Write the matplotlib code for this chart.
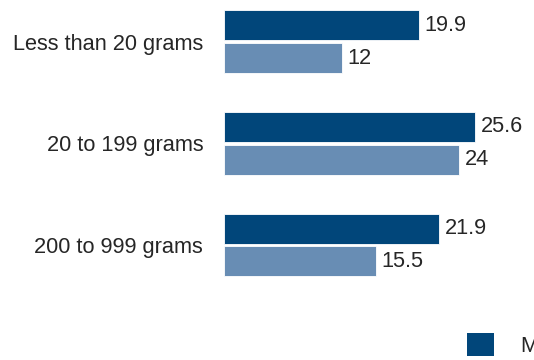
import numpy as np
import matplotlib
matplotlib.use('Agg')
from matplotlib import pyplot as plt
from matplotlib.patches import Patch

categories = ['Less than 20 grams', '20 to 199 grams', '200 to 999 grams']
series_names = ['Male', 'Female']
dark_values = [19.9, 25.6, 21.9]
light_values = [12, 24, 15.5]

DARK = '#01467A'
LIGHT = '#688DB4'
TEXT = '#262626'
FS = 15.7

plt.rcParams['font.family'] = ['Liberation Sans', 'DejaVu Sans']

fig = plt.figure(figsize=(5.34, 3.60), dpi=100)
ax = fig.add_axes([224 / 534, 0, 310 / 534, 1])

y = np.arange(len(categories))
h = 0.295
off = 0.162

b1 = ax.barh(y - off, dark_values, height=h, color=DARK, edgecolor='white', linewidth=0.6)
b2 = ax.barh(y + off, light_values, height=h, color=LIGHT, edgecolor='white', linewidth=0.6)

ax.bar_label(b1, labels=[f'{v:g}' for v in dark_values], padding=4, fontsize=FS, color=TEXT)
ax.bar_label(b2, labels=[f'{v:g}' for v in light_values], padding=4, fontsize=FS, color=TEXT)

ax.set_xlim(0, 31.6)
ax.set_ylim(3.132, -0.411)
ax.set_yticks(y)
ax.set_yticklabels(categories, fontsize=FS, color=TEXT)
ax.tick_params(axis='y', length=0, pad=15)
ax.set_xticks([])
for s in ax.spines.values():
    s.set_visible(False)

# legend sits partly outside the canvas, as in the source
handles = [Patch(facecolor=DARK), Patch(facecolor=LIGHT)]
fig.legend(handles, series_names, loc='upper left',
           bbox_to_anchor=(467 / 534, 1 - 333 / 360), frameon=False,
           fontsize=FS, handlelength=1.25, handleheight=1.25,
           handletextpad=1.2, borderpad=0, borderaxespad=0, labelcolor=TEXT)

fig.savefig('out.png', dpi=100)
